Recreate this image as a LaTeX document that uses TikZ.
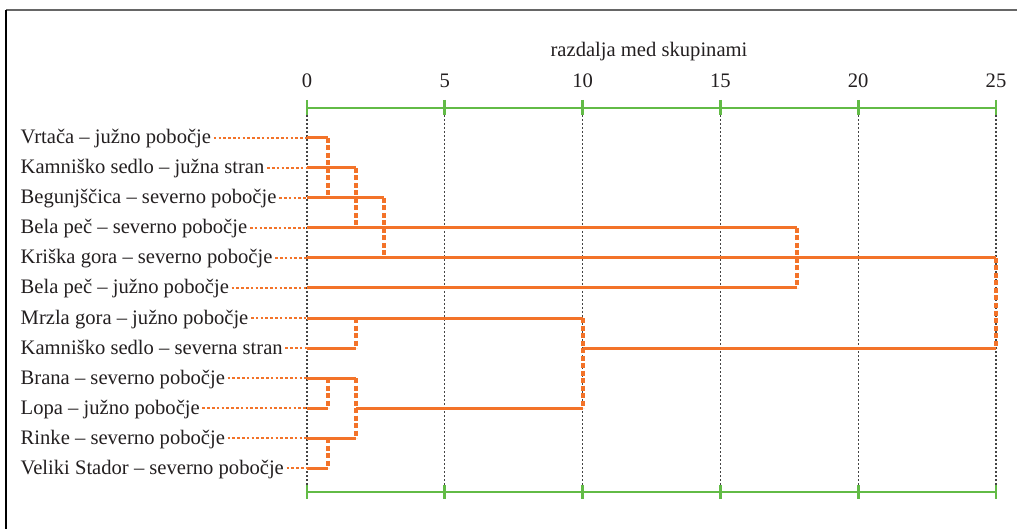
\documentclass[tikz,border=0pt]{standalone}
\usepackage{fontspec}
\setmainfont{Liberation Serif}
\definecolor{ink}{HTML}{231F20}
\definecolor{dorange}{HTML}{F37329}
\definecolor{dgreen}{HTML}{62BB46}
\definecolor{framegray}{HTML}{666666}
\definecolor{gridgray}{HTML}{444444}
\begin{document}
\begin{tikzpicture}[x=1pt,y=-1pt,
  lbl/.style={anchor=base west,inner sep=2.5pt,text=ink,font=\fontsize{20.6}{24}\selectfont},
  ticklbl/.style={anchor=base,inner sep=0pt,text=ink,font=\fontsize{20.6}{24}\selectfont},
  leader/.style={draw=dorange,line width=1.4pt,dash pattern=on 2.6pt off 2.2pt},
  hline/.style={draw=dorange,line width=3pt},
  vline/.style={draw=dorange,line width=3.4pt,dash pattern=on 5pt off 2.5pt},
  axis/.style={draw=dgreen,line width=2.8pt},
  tick/.style={draw=dgreen,line width=2.8pt},
  grid/.style={draw=gridgray,line width=1.2pt,dash pattern=on 2pt off 2pt}]
\useasboundingbox (0,0) rectangle (1017,529);
% frame
\draw[framegray,line width=1.6pt] (6,10) -- (1017,10);
\draw[black,line width=1.2pt] (6,10) -- (6,529);
% title
\node[ticklbl] (title) at (649,57) {razdalja med skupinami};
% axes
\foreach \v/\xx in {0/307,5/444.8,10/582.6,15/720.4,20/858.2,25/996}{
  \node[ticklbl] (t\v) at (\xx,88) {\v};
  \coordinate (at\v) at (\xx,108);
  \coordinate (ab\v) at (\xx,492);
  \draw[grid] (\xx,115) -- (\xx,485);
  \draw[tick] (\xx,100) -- (\xx,115);
  \draw[tick] (\xx,485) -- (\xx,499);
}
\draw[axis] (at0) -- (at25);
\draw[axis] (ab0) -- (ab25);
% labels
\foreach \i/\t in {1/{Vrtača – južno pobočje},2/{Kamniško sedlo – južna stran},3/{Begunjščica – severno pobočje},4/{Bela peč – severno pobočje},5/{Kriška gora – severno pobočje},6/{Bela peč – južno pobočje},7/{Mrzla gora – južno pobočje},8/{Kamniško sedlo – severna stran},9/{Brana – severno pobočje},10/{Lopa – južno pobočje},11/{Rinke – severno pobočje},12/{Veliki Stador – severno pobočje}}{
  \pgfmathsetmacro{\yy}{138+30*(\i-1)}
  \node[lbl] (l\i) at (18,\yy+6) {\t};
  \coordinate (r\i) at (307,\yy);
  \draw[leader] (l\i.east |- r\i) -- (r\i);
}
% merge coordinates
\coordinate (a1) at (328,138); \coordinate (b1) at (328,198);
\coordinate (a2) at (356,168); \coordinate (b2) at (356,228);
\coordinate (a3) at (384,198); \coordinate (b3) at (384,258);
\coordinate (a4) at (797,228); \coordinate (b4) at (797,288);
\coordinate (a5) at (996,258); \coordinate (b5) at (996,348);
\coordinate (a6) at (356,318); \coordinate (b6) at (356,348);
\coordinate (a7) at (583,318); \coordinate (b7) at (583,408);
\coordinate (a8) at (328,378); \coordinate (b8) at (328,408);
\coordinate (a9) at (356,378); \coordinate (b9) at (356,438);
\coordinate (a10) at (328,438); \coordinate (b10) at (328,468);
% horizontal links
\draw[hline] (r1) -- (a1);
\draw[hline] (r3) -- (b1);
\draw[hline] (r2) -- (a2);
\draw[hline] (r4) -- (b2);
\draw[hline] (b1) -- (a3);
\draw[hline] (r5) -- (b3);
\draw[hline] (b2) -- (a4);
\draw[hline] (r6) -- (b4);
\draw[hline] (b3) -- (a5);
\draw[hline] (r7) -- (a7);
\draw[hline] (r8) -- (b6);
\draw[hline] (b7 -| b6) -- (b7);
\draw[hline] (r9) -- (a9);
\draw[hline] (r10) -- (b8);
\draw[hline] (r11) -- (b9);
\draw[hline] (r12) -- (b10);
\draw[hline] (b6 -| b7) -- (b5);
% vertical links
\foreach \k in {1,...,10}{ \draw[vline] (a\k) -- (b\k); }
\end{tikzpicture}
\end{document}
